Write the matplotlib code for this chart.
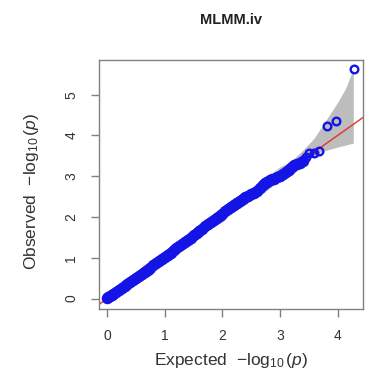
import matplotlib
matplotlib.use("Agg")
import matplotlib.pyplot as plt

plt.rcParams["font.family"] = ["Liberation Sans", "DejaVu Sans"]
plt.rcParams["mathtext.fontset"] = "custom"
plt.rcParams["mathtext.rm"] = "Liberation Sans"
plt.rcParams["mathtext.it"] = "Liberation Sans:italic"

title = "MLMM.iv"

# Bulk of the QQ points: expected vs observed -log10(p)
expected_bulk = [0.00, 0.02, 0.05, 0.08, 0.10, 0.15, 0.20, 0.25, 0.30, 0.35,
                 0.40, 0.45, 0.50, 0.55, 0.60, 0.65, 0.70, 0.75, 0.80, 0.85,
                 0.90, 0.95, 1.00, 1.05, 1.10, 1.15, 1.20, 1.25, 1.30, 1.35,
                 1.40, 1.45, 1.50, 1.55, 1.60, 1.65, 1.70, 1.75, 1.80, 1.85,
                 1.90, 1.95, 2.00, 2.05, 2.10, 2.15, 2.20, 2.25, 2.30, 2.35,
                 2.40, 2.45, 2.50, 2.55, 2.60, 2.65, 2.70, 2.74, 2.78, 2.82,
                 2.86, 2.90, 2.95, 3.00, 3.05, 3.10, 3.15, 3.20, 3.25, 3.30,
                 3.35, 3.40]
observed_bulk = [0.01, 0.03, 0.06, 0.08, 0.10, 0.15, 0.20, 0.25, 0.30, 0.35,
                 0.40, 0.45, 0.50, 0.55, 0.60, 0.66, 0.71, 0.76, 0.81, 0.86,
                 0.91, 0.97, 1.02, 1.07, 1.12, 1.18, 1.23, 1.28, 1.33, 1.39,
                 1.44, 1.49, 1.55, 1.60, 1.66, 1.71, 1.77, 1.82, 1.87, 1.92,
                 1.98, 2.03, 2.08, 2.14, 2.19, 2.25, 2.30, 2.35, 2.39, 2.44,
                 2.48, 2.52, 2.56, 2.60, 2.64, 2.70, 2.78, 2.83, 2.87, 2.90,
                 2.92, 2.94, 2.97, 3.00, 3.05, 3.10, 3.16, 3.22, 3.27, 3.30,
                 3.33, 3.37]

# Most significant markers
expected_tail = [3.45, 3.50, 3.59, 3.68, 3.81, 3.98, 4.29]
observed_tail = [3.46, 3.57, 3.57, 3.62, 4.24, 4.36, 5.62]

# 95% confidence band around the null line
band_upper_x = [2.0, 2.5, 2.8, 3.0, 3.2, 3.4, 3.6, 3.8, 4.0, 4.15, 4.28]
band_upper_y = [2.10, 2.66, 2.99, 3.21, 3.36, 3.62, 3.92, 4.35, 4.78, 5.15, 5.62]
band_lower_x = [2.0, 2.5, 2.8, 3.0, 3.2, 3.4, 3.7, 4.0, 4.28]
band_lower_y = [1.92, 2.38, 2.66, 2.88, 3.10, 3.32, 3.58, 3.70, 3.80]

x_ticks = [0, 1, 2, 3, 4]
y_ticks = [0, 1, 2, 3, 4, 5]

fig = plt.figure(figsize=(3.71, 3.82), dpi=100)
ax = fig.add_axes([0.2668, 0.1924, 0.7116, 0.6505])

poly_x = band_upper_x + band_lower_x[::-1]
poly_y = band_upper_y + band_lower_y[::-1]
ax.fill(poly_x, poly_y, color="#bdbdbd", lw=0, zorder=1)

ax.axline((0, 0), slope=1, color="#e8302a", lw=1.0, zorder=2)

blue = "#1414e6"
ax.plot(expected_bulk, observed_bulk, color=blue, lw=7.0, solid_capstyle="round",
        zorder=3)
ax.plot(expected_bulk, observed_bulk, ls="none", marker="o", ms=6.5, mfc="none",
        mec=blue, mew=1.8, zorder=4)
ax.plot(expected_tail, observed_tail, ls="none", marker="o", ms=5.5, mfc="none",
        mec=blue, mew=1.7, zorder=4)

ax.set_xlim(-0.144, 4.44)
ax.set_ylim(-0.245, 5.85)
ax.set_xticks(x_ticks)
ax.set_yticks(y_ticks)

frame = "#808080"
for s in ax.spines.values():
    s.set_color(frame)
    s.set_linewidth(1.0)
ax.tick_params(direction="out", length=6, width=1.0, color=frame,
               labelsize=10, labelcolor="#333333", pad=9)
for lab in ax.get_yticklabels():
    lab.set_rotation(90)
    lab.set_va("center")

ax.set_xlabel(r"Expected  $-\log_{10}(\mathit{p})$", fontsize=12.5,
              color="#333333")
ax.xaxis.label.set_va("center")
ax.xaxis.set_label_coords(0.5, -0.211)
ax.set_ylabel(r"Observed  $-\log_{10}(\mathit{p})$", fontsize=12.5,
              color="#333333")
ax.yaxis.label.set_va("center")
ax.yaxis.set_label_coords(-0.254, 0.47)

fig.text(0.6226, 1 - 20 / 382, title, ha="center", va="center",
         fontsize=10.5, fontweight="bold", color="#222222")

fig.savefig("out.png", dpi=100)
